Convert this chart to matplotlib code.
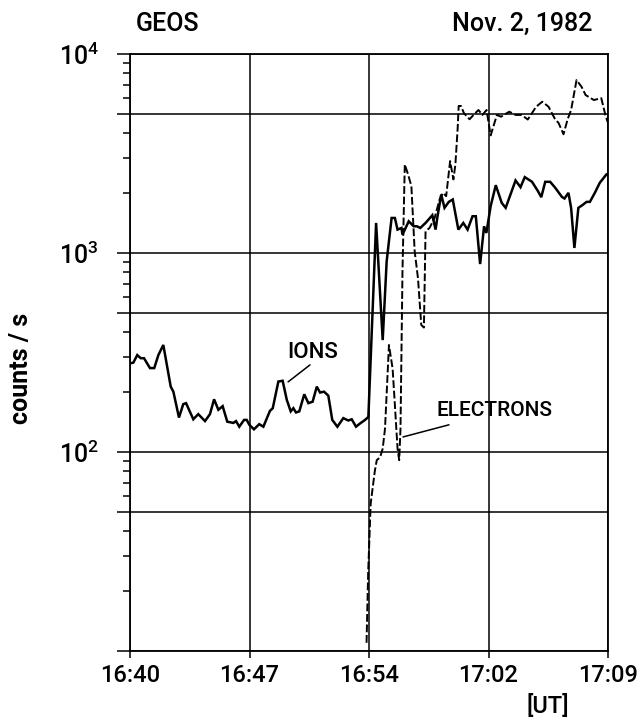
import matplotlib
matplotlib.use("Agg")
import matplotlib.pyplot as plt
from matplotlib.ticker import FixedLocator, LogLocator, NullFormatter

plt.rcParams['font.family'] = ['Roboto', 'DejaVu Sans']
plt.rcParams['font.weight'] = 'medium'
plt.rcParams['mathtext.fontset'] = 'custom'
plt.rcParams['mathtext.rm'] = 'Roboto:medium'

# time in minutes after 16:40 UT, counts per second
ion_t = [0.00, 0.20, 0.44, 0.65, 0.85, 1.21, 1.47, 1.72, 2.02, 2.47, 2.63, 2.97,
         3.23, 3.40, 3.84, 4.14, 4.55, 4.85, 5.10, 5.36, 5.62, 5.90, 6.27, 6.43,
         6.63, 6.92, 7.08, 7.24, 7.52, 7.84, 8.09, 8.49, 8.66, 9.00, 9.26, 9.51,
         9.75, 9.91, 10.07, 10.27, 10.57, 10.82, 11.08, 11.33, 11.53, 11.77, 12.03,
         12.27, 12.58, 12.94, 13.24, 13.45, 13.71, 13.95, 14.26, 14.46, 14.93,
         15.33, 15.57, 15.87, 16.07, 16.23, 16.47, 16.53, 16.91, 17.21, 17.41,
         17.61, 17.93, 18.34, 18.54, 18.64, 18.88, 19.08, 19.34, 19.58, 19.92,
         20.22, 20.48, 20.78, 20.98, 21.24, 21.48, 21.62, 21.88, 22.19, 22.55,
         22.79, 23.39, 23.69, 23.95, 24.39, 24.75, 24.95, 25.19, 25.49, 25.80,
         26.20, 26.36, 26.60, 26.76, 26.96, 27.20, 27.44, 27.70, 27.90, 28.20,
         28.50, 28.90, 29.00]
ion_c = [279, 281, 307, 296, 296, 264, 264, 307, 345, 213, 201, 149,
         174, 176, 146, 155, 143, 155, 184, 163, 170, 142, 140, 143,
         134, 145, 145, 137, 130, 138, 134, 161, 166, 226, 228, 183,
         160, 166, 158, 160, 195, 176, 179, 213, 199, 201, 192,
         145, 134, 148, 144, 146, 134, 139, 145, 150, 1416,
         365, 908, 1500, 1500, 1311, 1336, 1237, 1443, 1362, 1362,
         1336, 1416, 1548, 1311, 1500, 1968, 1686, 1807, 1857, 1311,
         1416, 1311, 1530, 1530, 880, 1362, 1261, 1719, 2192, 1786,
         1686, 2315, 2142, 2406, 2279, 2045, 1907, 2279, 2279, 2126,
         1915, 1878, 2006, 1686, 1060, 1686, 1739, 1807, 1807, 2006,
         2253, 2481, 2500]

ele_t = [14.35, 14.45, 14.60, 14.85, 14.97, 15.17, 15.33, 15.47, 15.71, 15.93,
         16.07, 16.23, 16.33, 16.41, 16.53, 16.67, 16.87, 17.07, 17.27, 17.47,
         17.67, 17.83, 17.93, 18.17, 18.48, 18.78, 18.98, 19.18, 19.42, 19.62,
         19.74, 19.88, 19.94, 20.08, 20.26, 20.60, 20.90, 21.14, 21.38, 21.63,
         21.88, 22.26, 22.51, 23.01, 23.39, 23.76, 24.13, 24.64, 25.01, 25.39,
         25.76, 26.00, 26.30, 26.55, 26.76, 27.09, 27.39, 27.64, 28.14, 28.59,
         28.84, 29.00]
ele_c = [11, 25, 55, 80, 91, 94, 104, 131, 345, 263,
         172, 104, 91, 131, 808, 2787, 2481, 2167, 1019, 747,
         435, 422, 1285, 1336, 1500, 1857, 2006, 1930, 2897, 2342,
         2787, 4266, 5480, 5480, 5040, 4700, 5000, 5230, 4940, 5230,
         3900, 4940, 4840, 5130, 4940, 4940, 4685, 5435, 5755, 5435,
         4750, 4500, 3950, 4700, 5230, 7396, 6850, 6220, 5870, 6000,
         4940, 4500]

tick_pos = [0, 7.25, 14.5, 21.75, 29]
tick_lab = ['16:40', '16:47', '16:54', '17:02', '17:09']

fig = plt.figure(figsize=(6.43, 7.18), dpi=100)
ax = fig.add_axes([0.2022, 0.0933, 0.7434, 0.8315])

ax.plot(ion_t, ion_c, color='black', lw=1.8, solid_joinstyle='miter')
ax.plot(ele_t, ele_c, color='black', lw=1.4, linestyle=(0, (4, 1.4)))

ax.set_yscale('log')
ax.set_ylim(10, 10000)
ax.set_xlim(0, 29)

ax.yaxis.set_major_locator(FixedLocator([10, 50, 100, 500, 1000, 5000, 10000]))
ax.set_yticklabels(['', '', r'$\mathregular{10^2}$', '', r'$\mathregular{10^3}$', '',
                    r'$\mathregular{10^4}$'])
ax.yaxis.set_minor_locator(LogLocator(base=10, subs=(2, 3, 4, 6, 7, 8, 9)))
ax.yaxis.set_minor_formatter(NullFormatter())
ax.set_xticks(tick_pos)
ax.set_xticklabels(tick_lab)

ax.tick_params(axis='y', which='major', direction='out', length=9.5, width=1.1,
               pad=13, labelsize=18)
ax.tick_params(axis='y', which='minor', direction='out', length=5, width=1.1)
ax.tick_params(axis='x', which='major', direction='out', length=5, width=1.1,
               pad=4, labelsize=17)
ax.grid(True, which='major', color='black', lw=1.1)
for s in ax.spines.values():
    s.set_linewidth(1.3)

ax.text(11.10, 318, 'IONS', fontsize=16, ha='center', va='center')
ax.annotate('', xy=(9.59, 225), xytext=(10.92, 274),
            arrowprops=dict(arrowstyle='-', lw=1.1, shrinkA=0, shrinkB=0))
ax.text(22.14, 161, 'ELECTRONS', fontsize=15, ha='center', va='center')
ax.annotate('', xy=(16.56, 119), xytext=(19.35, 137),
            arrowprops=dict(arrowstyle='-', lw=1.1, shrinkA=0, shrinkB=0))

fig.text(0.033, 0.4875, 'counts / s', rotation=90, ha='center', va='center',
         fontsize=18, fontweight='bold')
fig.text(136 / 643, 1 - 31 / 718, 'GEOS', fontsize=18, va='baseline')
fig.text(592 / 643, 1 - 31 / 718, 'Nov. 2, 1982', fontsize=18, va='baseline',
         ha='right')
fig.text(548 / 643, 1 - 706 / 718, '[UT]', fontsize=17, ha='center', va='center')

fig.savefig('out.png', dpi=100)
